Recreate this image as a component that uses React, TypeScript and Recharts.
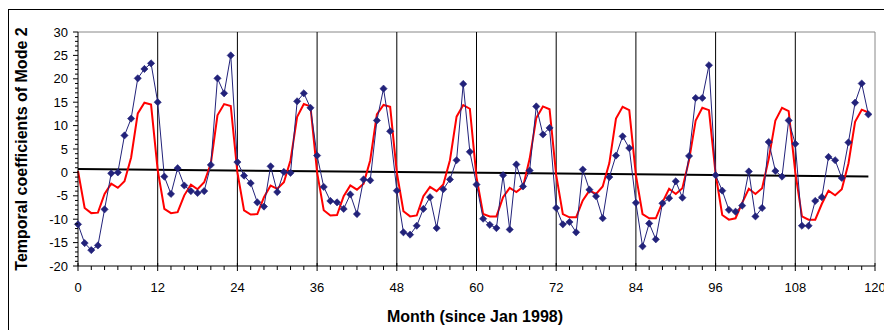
import React from 'react';
import { ComposedChart, Line, XAxis, YAxis, ReferenceLine } from 'recharts';

const months: number[] = Array.from({ length: 120 }, (_, i) => i);

const observed: number[] = [
  -11.1, -15.1, -16.6, -15.6, -7.9, -0.2, 0, 7.9, 11.5, 20.1, 22.1, 23.3,
  15, -0.9, -4.6, 0.9, -2.8, -4, -4.4, -4, 1.6, 20.1, 16.9, 25,
  2.2, -0.7, -2.3, -6.4, -7.3, 1.3, -4.2, 0.1, -0.1, 15.2, 16.9, 13.8,
  3.6, -3.1, -6.1, -6.4, -7.8, -4.7, -8.9, -1.5, -1.7, 11.1, 17.9, 8.8,
  -3.9, -12.8, -13.3, -11.4, -7.8, -5.3, -11.9, -3.6, -1.5, 2.6, 18.9, 4.4,
  -2.6, -9.9, -11.2, -11.9, -0.6, -12.2, 1.7, -3, 0.4, 14.1, 8.1, 9.5,
  -7.6, -11.1, -10.6, -12.8, 0.6, -3.7, -5.1, -9.8, -1, 3.6, 7.7, 5.2,
  -6.5, -15.8, -10.9, -14.3, -6.6, -5.5, -1.9, -5.4, 3.5, 15.9, 15.9, 22.9,
  -0.6, -3.9, -8, -8.4, -7.1, 0.2, -9.4, -7.6, 6.5, 0.3, -0.9, 11.1,
  6.1, -11.4, -11.4, -6.1, -5.3, 3.3, 2.6, -1.2, 6.4, 14.9, 19, 12.4,
];

const fitted: number[] = [
  0.3, -7.6, -8.7, -8.6, -4.6, -2.4, -3.3, -1.9, 3.2, 12.6, 14.9, 14.5,
  0.5, -7.8, -8.7, -8.5, -4.9, -2.6, -3.6, -2.1, 1.9, 12.2, 14.6, 14.2,
  0, -8.1, -9, -8.9, -5.3, -2.8, -3.5, -2.1, 2.6, 11.9, 14.6, 14.1,
  0, -8.1, -9.2, -9.1, -5.1, -2.8, -3.7, -2.4, 2.6, 12.4, 14.4, 14,
  0, -8.3, -9.4, -9.2, -5.1, -3.1, -4, -2.6, 2.6, 11.9, 14.4, 13.6,
  -1, -8.9, -9.4, -9.4, -5.3, -3.3, -4.2, -3.1, 2.9, 11.6, 14.1, 13.5,
  -0.6, -8.9, -9.6, -9.6, -6, -3.9, -4.6, -3, 2, 11.5, 14, 13.3,
  -0.6, -8.9, -9.8, -9.8, -6.4, -3.5, -4.6, -3.4, 2.6, 11.1, 13.8, 13.3,
  -0.3, -9.1, -10.1, -9.8, -6.5, -3.5, -4.6, -3.4, 2.9, 11.1, 13.8, 13.1,
  0, -9.4, -10.1, -10.1, -6.7, -3.9, -4.9, -3.6, 1.9, 10.8, 13.4, 12.8,
];

const trendStart = 0.7;
const trendEnd = -0.85;

const xTicks: number[] = Array.from({ length: 61 }, (_, i) => i * 2);
const yTicks: number[] = Array.from({ length: 51 }, (_, i) => i - 20);
const yearMarks: number[] = [12, 24, 36, 48, 60, 72, 84, 96, 108];

const data = months.map((m, i) => ({
  m,
  obs: observed[i],
  fit: fitted[i],
  trend: i === 0 ? trendStart : i === months.length - 1 ? trendEnd : null,
}));

const FONT = '"Liberation Sans", Arial, sans-serif';
const BLUE = '#22227A';

const Diamond = (props: any) => {
  const { cx, cy, index } = props;
  if (cx == null || cy == null) return <g key={`d${index}`} />;
  const r = 3.6;
  return (
    <polygon
      key={`d${index}`}
      points={`${cx},${cy - r} ${cx + r},${cy} ${cx},${cy + r} ${cx - r},${cy}`}
      fill={BLUE}
      stroke={BLUE}
      strokeWidth={0.6}
    />
  );
};

const XTick = (props: any) => {
  const { x, y, payload } = props;
  const v = payload.value as number;
  const major = v % 12 === 0;
  return (
    <g>
      <line x1={x} x2={x} y1={y - (major ? 3 : 0)} y2={y + (major ? 5 : 4)} stroke="#000" strokeWidth={1} />
      {major && (
        <text x={x} y={y + 26} textAnchor="middle" fontFamily={FONT} fontSize={13} fill="#000">
          {v}
        </text>
      )}
    </g>
  );
};

const YTick = (props: any) => {
  const { x, y, payload } = props;
  const v = payload.value as number;
  const major = v % 5 === 0;
  return (
    <g>
      <line x1={x - (major ? 5 : 3)} x2={x} y1={y} y2={y} stroke="#000" strokeWidth={1} />
      {major && (
        <text x={x - 10} y={y + 4.5} textAnchor="end" fontFamily={FONT} fontSize={13} fill="#000">
          {v}
        </text>
      )}
    </g>
  );
};

export default function App() {
  return (
    <div style={{ position: 'absolute', left: 0, top: 0, width: 884, height: 330, background: '#fff', overflow: 'hidden' }}>
      <div
        style={{
          position: 'absolute',
          left: 8,
          top: 9,
          width: 900,
          height: 340,
          borderLeft: '1px solid #000',
          borderTop: '1px solid #000',
        }}
      />
      <div style={{ position: 'absolute', left: 0, top: 0 }}>
        <ComposedChart width={884} height={330} data={data} margin={{ top: 32, right: 9, bottom: 0, left: 0 }}>
          <XAxis
            dataKey="m"
            type="number"
            domain={[0, 120]}
            ticks={xTicks}
            interval={0}
            height={64}
            tickSize={0}
            tickMargin={0}
            tick={<XTick />}
            tickLine={false}
            axisLine={{ stroke: '#000', strokeWidth: 1 }}
          />
          <YAxis
            type="number"
            domain={[-20, 30]}
            ticks={yTicks}
            interval={0}
            width={78}
            tickSize={0}
            tickMargin={0}
            tick={<YTick />}
            tickLine={false}
            axisLine={{ stroke: '#000', strokeWidth: 1 }}
          />
          <ReferenceLine y={30} stroke="#888" strokeWidth={1} />
          <ReferenceLine x={120} stroke="#888" strokeWidth={1} />
          {yearMarks.map((x) => (
            <ReferenceLine key={x} x={x} stroke="#000" strokeWidth={1} />
          ))}
          <Line
            dataKey="trend"
            connectNulls
            stroke="#000"
            strokeWidth={2}
            dot={false}
            isAnimationActive={false}
            type="linear"
          />
          <Line
            dataKey="fit"
            stroke="#FF0000"
            strokeWidth={2}
            dot={false}
            isAnimationActive={false}
            type="linear"
          />
          <Line
            dataKey="obs"
            stroke={BLUE}
            strokeWidth={1}
            dot={<Diamond />}
            isAnimationActive={false}
            type="linear"
          />
        </ComposedChart>
      </div>
      <div
        style={{
          position: 'absolute',
          left: 475,
          top: 317,
          transform: 'translate(-50%, -50%)',
          fontFamily: FONT,
          fontWeight: 'bold',
          fontSize: 16,
          lineHeight: '18px',
          whiteSpace: 'nowrap',
          color: '#000',
        }}
      >
        Month (since Jan 1998)
      </div>
      <div
        style={{
          position: 'absolute',
          left: 22,
          top: 149,
          transform: 'translate(-50%, -50%) rotate(-90deg)',
          fontFamily: FONT,
          fontWeight: 'bold',
          fontSize: 16,
          lineHeight: '18px',
          whiteSpace: 'nowrap',
          color: '#000',
        }}
      >
        Temporal coefficients of Mode 2
      </div>
    </div>
  );
}
